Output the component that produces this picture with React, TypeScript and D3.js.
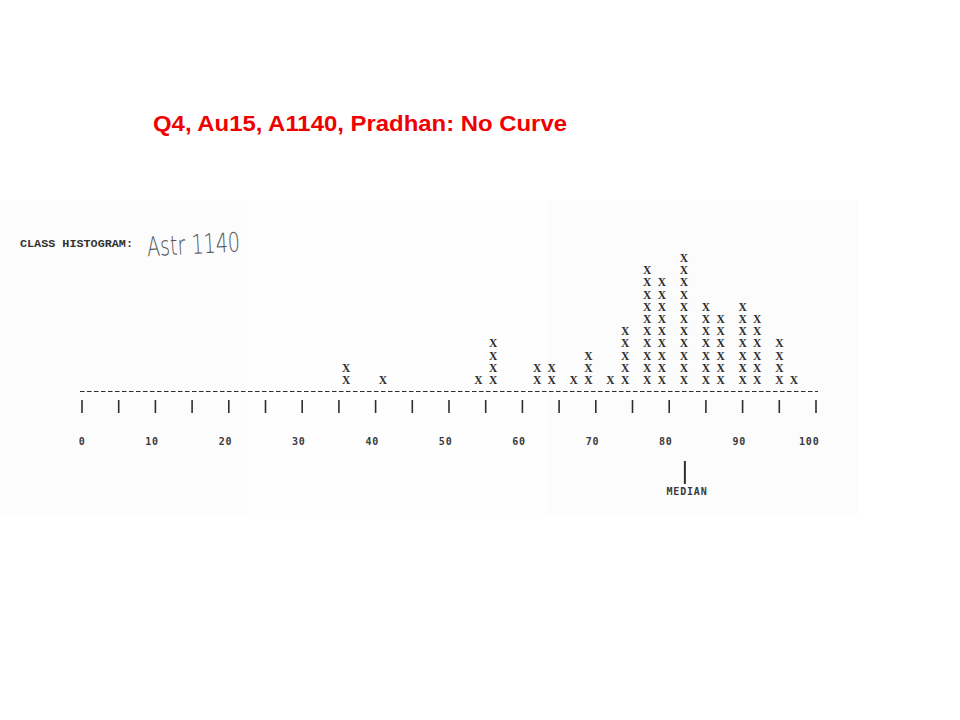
import React from "react";
import * as d3 from "d3";

const scores = [36, 41, 54, 56, 62, 64, 67, 69, 72, 74, 77, 79, 82, 85, 87, 90, 92, 95, 97];
const counts = [2, 1, 1, 4, 2, 2, 1, 3, 1, 5, 10, 9, 11, 7, 6, 7, 6, 4, 1];
const tickValues = d3.range(0, 101, 5);
const labelValues = [0, 10, 20, 30, 40, 50, 60, 70, 80, 90, 100];
const medianValue = 82;
const title = "Q4, Au15, A1140, Pradhan: No Curve";

export default function App() {
  const x = d3.scaleLinear().domain([0, 100]).range([82, 816]);
  const baseY = 380;
  const rowH = 12.2;
  const ink = "#2e2e2e";
  const marks: { v: number; i: number }[] = [];
  scores.forEach((v, k) => {
    for (let i = 0; i < counts[k]; i++) marks.push({ v, i });
  });
  return (
    <svg
      width={960}
      height={720}
      style={{ position: "absolute", left: 0, top: 0, background: "#fff" }}
    >
      <rect x={0} y={200} width={858} height={316} fill="#fcfcfc" />
      <rect x={248} y={200} width={300} height={316} fill="#fefefe" />
      <text
        x={153}
        y={131}
        fontFamily="Liberation Sans, Arial, sans-serif"
        fontWeight="bold"
        fontSize={21.5}
        fill="#f00000"
        textLength={414}
        lengthAdjust="spacingAndGlyphs"
      >
        {title}
      </text>
      <text
        x={20}
        y={247}
        fontFamily="Liberation Mono, Courier New, monospace"
        fontWeight="bold"
        fontSize={10.5}
        fill="#333"
        textLength={113}
        lengthAdjust="spacingAndGlyphs"
      >
        CLASS HISTOGRAM:
      </text>
      <text
        x={147}
        y={254}
        fontFamily="DejaVu Sans, sans-serif"
        fontWeight={200}
        fontSize={27}
        fill="#555"
        textLength={93}
        lengthAdjust="spacingAndGlyphs"
        transform="rotate(-3 190 245)"
      >
        Astr 1140
      </text>
      {marks.map((m, j) => (
        <text
          key={j}
          x={x(m.v)}
          y={baseY - m.i * rowH + 4}
          textAnchor="middle"
          fontFamily="Liberation Serif, serif"
          fontWeight="bold"
          fontSize={11.5}
          fill={ink}
        >
          X
        </text>
      ))}
      <line
        x1={80}
        x2={818}
        y1={391.5}
        y2={391.5}
        stroke={ink}
        strokeWidth={1.2}
        strokeDasharray="4.5 2.5"
      />
      {tickValues.map((v) => (
        <line
          key={v}
          x1={x(v)}
          x2={x(v)}
          y1={400}
          y2={413}
          stroke={ink}
          strokeWidth={1.6}
        />
      ))}
      {labelValues.map((v) => (
        <text
          key={v}
          x={x(v) + 3.5}
          y={445}
          textAnchor="end"
          fontFamily="DejaVu Sans Mono, monospace"
          fontWeight="bold"
          fontSize={10}
          letterSpacing={0.8}
          fill="#3a3a3a"
        >
          {v}
        </text>
      ))}
      <line
        x1={x(medianValue) + 1}
        x2={x(medianValue) + 1}
        y1={461}
        y2={484}
        stroke={ink}
        strokeWidth={2}
      />
      <text
        x={687}
        y={495}
        textAnchor="middle"
        fontFamily="DejaVu Sans Mono, monospace"
        fontWeight="bold"
        fontSize={10}
        letterSpacing={0.8}
        fill="#3a3a3a"
      >
        MEDIAN
      </text>
    </svg>
  );
}
